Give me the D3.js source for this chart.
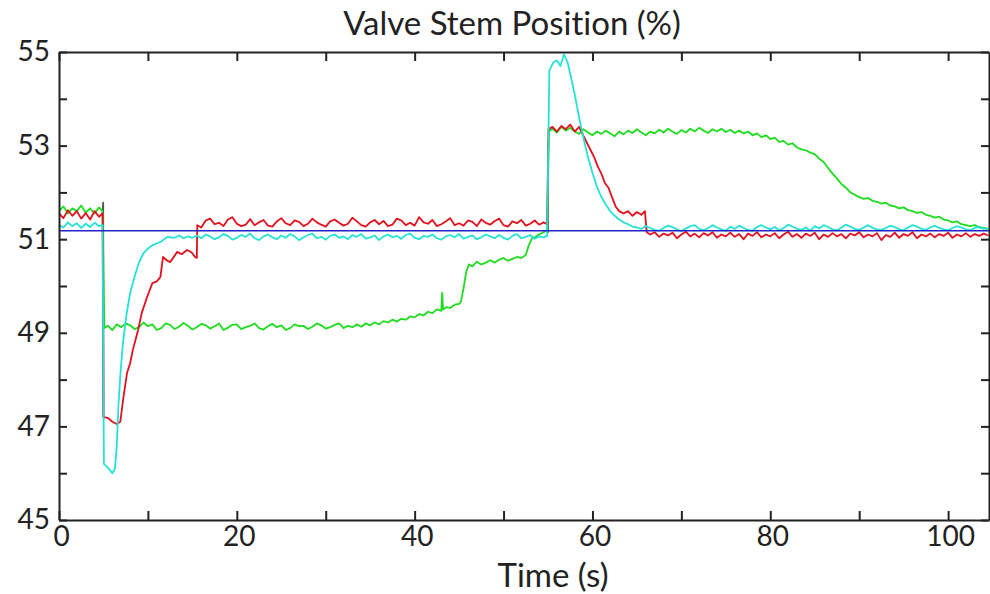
<!DOCTYPE html>
<html>
<head>
<meta charset="utf-8">
<script src="https://cdn.jsdelivr.net/npm/d3@7"></script>
<style>
  body { margin: 0; background: #fff; }
  svg text { font-family: Lato, "Open Sans", sans-serif; fill: #222; font-variant-ligatures: none; }
</style>
</head>
<body>
<svg class="valveChart" width="990" height="594"></svg>
<script>
// time (s), valve stem position (%)
var redTrace = [
  [0,51.55],[0.5,51.45],[1,51.62],[1.5,51.5],[2,51.6],[2.5,51.44],[3,51.56],[3.5,51.42],[4,51.6],[4.5,51.48],[4.9,51.55],
  [5,47.2],[5.5,47.18],[6,47.1],[6.5,47.05],[6.9,47.1],[7.2,47.56],[7.65,48.14],[8,48.35],[8.3,48.63],[8.9,49.06],[9.3,49.42],[9.9,49.76],[10.5,50.06],[11,50.1],[11.4,50.19],[11.7,50.62],[12.1,50.55],[12.5,50.51],[13.3,50.73],[13.8,50.68],[14.4,50.77],[14.9,50.72],[15.3,50.62],[15.5,50.6],[15.55,51.3],
  [16,51.25],[16.5,51.4],[17,51.44],[17.5,51.32],[18,51.35],[18.5,51.28],[19,51.42],[19.5,51.47],[20,51.33],[20.5,51.28],[21,51.31],[21.5,51.43],[22,51.3],[22.5,51.36],[23,51.41],[23.5,51.29],[24,51.27],[24.5,51.38],[25,51.45],[25.5,51.34],[26,51.3],[26.5,51.4],[27,51.37],[27.5,51.28],[28,51.33],[28.5,51.44],[29,51.36],[29.5,51.31],[30,51.27],[30.5,51.38],[31,51.42],[31.5,51.35],[32,51.29],[32.5,51.33],[33,51.46],[33.5,51.38],[34,51.3],[34.5,51.27],[35,51.36],[35.5,51.41],[36,51.32],[36.5,51.39],[37,51.28],[37.5,51.31],[38,51.44],[38.5,51.4],[39,51.3],[39.5,51.35],[40,51.29],[40.5,51.47],[41,51.36],[41.5,51.33],[42,51.41],[42.5,51.28],[43,51.32],[43.5,51.38],[44,51.45],[44.5,51.3],[45,51.34],[45.5,51.29],[46,51.4],[46.5,51.37],[47,51.28],[47.5,51.42],[48,51.35],[48.5,51.31],[49,51.39],[49.5,51.44],[50,51.3],[50.5,51.27],[51,51.38],[51.5,51.34],[52,51.41],[52.5,51.29],[53,51.33],[53.5,51.4],[54,51.31],[54.5,51.36],[54.9,51.32],
  [55.05,53.35],[55.5,53.4],[56,53.3],[56.5,53.42],[57,53.35],[57.5,53.45],[58,53.3],[58.5,53.4],[59,53.2],[59.4,53.05],[59.8,52.9],[60.2,52.75],[60.6,52.55],[61,52.4],[61.4,52.2],[61.8,52.1],[62.2,51.9],[62.6,51.7],[63,51.6],[63.5,51.55],[64,51.6],[64.5,51.5],[65,51.58],[65.5,51.52],[65.9,51.6],[66.1,51.15],
  [66.5,51.1],[67,51.15],[67.5,51.05],[68,51.12],[68.5,51.08],[69,51.14],[69.5,51.02],[70,51.1],[70.5,51.16],[71,51.06],[71.5,51.12],[72,51.04],[72.5,51.13],[73,51.08],[73.5,51.15],[74,51.03],[74.5,51.1],[75,51.06],[75.5,51.14],[76,51.05],[76.5,51.11],[77,51.0],[77.5,51.12],[78,51.07],[78.5,51.15],[79,51.04],[79.5,51.1],[80,51.06],[80.5,51.13],[81,51.02],[81.5,51.1],[82,51.16],[82.5,51.05],[83,51.11],[83.5,51.03],[84,51.12],[84.5,51.07],[85,51.14],[85.5,51.0],[86,51.1],[86.5,51.05],[87,51.13],[87.5,51.06],[88,51.11],[88.5,51.02],[89,51.12],[89.5,51.08],[90,51.15],[90.5,51.04],[91,51.1],[91.5,51.06],[92,51.13],[92.5,50.98],[93,51.09],[93.5,51.05],[94,51.14],[94.5,51.03],[95,51.11],[95.5,51.07],[96,51.15],[96.5,51.02],[97,51.1],[97.5,51.06],[98,51.12],[98.5,51.04],[99,51.11],[99.5,51.07],[100,51.14],[100.5,51.03],[101,51.1],[101.5,51.06],[102,51.13],[102.5,51.05],[103,51.11],[103.5,51.07],[104,51.12],[104.5,51.08]
];

var cyanTrace = [
  [0,51.3],[0.5,51.25],[1,51.36],[1.5,51.28],[2,51.34],[2.5,51.24],[3,51.33],[3.5,51.26],[4,51.35],[4.5,51.28],[4.9,51.3],
  [5.05,46.2],[5.5,46.12],[6,46.0],[6.3,46.1],[6.5,46.6],[6.7,47.5],[6.9,48.1],[7.2,48.8],[7.6,49.4],[8,49.85],[8.5,50.2],[9,50.5],[9.5,50.7],[10,50.8],[10.6,50.88],[11.5,50.95],[12.2,51.05],[13,51.03],[13.5,51.08],[14,51.02],[14.5,51.06],[15,51.03],
  [15.5,51.08],[16,51.02],[16.5,51.1],[17,51.06],[17.5,51.0],[18,51.04],[18.5,51.11],[19,51.07],[19.5,50.99],[20,51.03],[20.5,51.09],[21,51.05],[21.5,51.12],[22,51.02],[22.5,50.98],[23,51.06],[23.5,51.1],[24,51.04],[24.5,51.0],[25,51.08],[25.5,51.03],[26,51.11],[26.5,51.06],[27,50.98],[27.5,51.04],[28,51.09],[28.5,51.12],[29,51.02],[29.5,51.05],[30,50.99],[30.5,51.07],[31,51.1],[31.5,51.03],[32,51.06],[32.5,51.0],[33,51.09],[33.5,51.05],[34,51.11],[34.5,51.01],[35,51.04],[35.5,51.08],[36,50.98],[36.5,51.06],[37,51.1],[37.5,51.04],[38,51.07],[38.5,51.01],[39,51.09],[39.5,51.12],[40,51.03],[40.5,51.0],[41,51.07],[41.5,51.05],[42,51.1],[42.5,51.02],[43,50.99],[43.5,51.06],[44,51.09],[44.5,51.04],[45,51.11],[45.5,51.01],[46,51.05],[46.5,51.08],[47,51.0],[47.5,51.04],[48,51.1],[48.5,51.06],[49,51.02],[49.5,51.09],[50,51.03],[50.5,50.99],[51,51.07],[51.5,51.11],[52,51.02],[52.5,51.05],[53,51.09],[53.5,51.01],[54,51.06],[54.5,51.04],[54.9,51.07],
  [55.15,54.6],[55.6,54.78],[56,54.82],[56.4,54.7],[56.8,54.95],[57.2,54.78],[57.6,54.45],[58,54.1],[58.5,53.6],[59,53.15],[59.5,52.75],[60,52.42],[60.5,52.12],[61,51.9],[61.5,51.74],[62,51.6],[62.5,51.5],[63,51.42],[63.5,51.36],[64,51.32],[64.5,51.27],[65,51.25],
  [65.5,51.22],[66,51.28],[66.5,51.24],[67,51.2],[67.5,51.18],[68,51.24],[68.5,51.29],[69,51.26],[69.5,51.21],[70,51.17],[70.5,51.23],[71,51.28],[71.5,51.3],[72,51.22],[72.5,51.19],[73,51.24],[73.5,51.3],[74,51.25],[74.5,51.21],[75,51.18],[75.5,51.27],[76,51.22],[76.5,51.29],[77,51.24],[77.5,51.2],[78,51.18],[78.5,51.26],[79,51.3],[79.5,51.25],[80,51.21],[80.5,51.26],[81,51.19],[81.5,51.24],[82,51.31],[82.5,51.27],[83,51.22],[83.5,51.2],[84,51.25],[84.5,51.18],[85,51.28],[85.5,51.23],[86,51.3],[86.5,51.26],[87,51.21],[87.5,51.19],[88,51.25],[88.5,51.31],[89,51.27],[89.5,51.22],[90,51.2],[90.5,51.25],[91,51.3],[91.5,51.24],[92,51.21],[92.5,51.2],[93,51.24],[93.5,51.29],[94,51.26],[94.5,51.21],[95,51.19],[95.5,51.25],[96,51.3],[96.5,51.27],[97,51.22],[97.5,51.2],[98,51.25],[98.5,51.29],[99,51.24],[99.5,51.21],[100,51.19],[100.5,51.24],[101,51.28],[101.5,51.25],[102,51.21],[102.5,51.19],[103,51.24],[103.5,51.27],[104,51.22],[104.5,51.23]
];

var greenTrace = [
  [0,51.6],[0.5,51.7],[1,51.55],[1.5,51.66],[2,51.6],[2.5,51.72],[3,51.57],[3.5,51.66],[4,51.55],[4.5,51.68],[4.9,51.6],
  [5.1,49.1],[5.5,49.15],[6,49.06],[6.5,49.18],[7,49.12],[7.5,49.2],[8,49.16],[8.5,49.08],[9,49.12],[9.5,49.22],[10,49.14],[10.5,49.18],[11,49.06],[11.5,49.1],[12,49.2],[12.5,49.17],[13,49.08],[13.5,49.13],[14,49.21],[14.5,49.15],[15,49.07],[15.5,49.12],[16,49.19],[16.5,49.16],[17,49.09],[17.5,49.14],[18,49.2],[18.5,49.06],[19,49.11],[19.5,49.17],[20,49.18],[20.5,49.08],[21,49.12],[21.5,49.15],[22,49.2],[22.5,49.1],[23,49.07],[23.5,49.14],[24,49.19],[24.5,49.12],[25,49.16],[25.5,49.06],[26,49.1],[26.5,49.18],[27,49.14],[27.5,49.15],[28,49.08],[28.5,49.13],[29,49.2],[29.5,49.16],[30,49.09],[30.5,49.12],[31,49.17],[31.5,49.2],[32,49.1],[32.5,49.15],[33,49.12],[33.5,49.18],[34,49.13],[34.5,49.2],[35,49.16],[35.5,49.22],[36,49.18],[36.5,49.25],[37,49.22],[37.5,49.28],[38,49.24],[38.5,49.3],[39,49.28],[39.5,49.35],[40,49.33],[40.5,49.4],[41,49.37],[41.5,49.45],[42,49.42],[42.5,49.5],[43,49.47],[43.1,49.85],[43.2,49.5],[43.6,49.55],[44,49.53],[44.5,49.6],[45,49.62],[45.2,49.66],[45.5,49.95],[45.8,50.3],[46.1,50.46],[46.5,50.42],[47,50.52],[47.5,50.46],[48,50.5],[48.5,50.55],[49,50.5],[49.5,50.56],[50,50.6],[50.5,50.54],[51,50.58],[51.5,50.62],[52,50.6],[52.5,50.66],[52.8,50.85],[53.2,51.02],[53.6,51.05],[54,51.1],[54.5,51.15],[54.9,51.2],
  [55.1,53.3],[55.5,53.36],[56,53.28],[56.5,53.4],[57,53.32],[57.5,53.38],[58,53.3],[58.5,53.25],[59,53.35],[59.5,53.28],[60,53.22],[60.5,53.3],[61,53.25],[61.5,53.32],[62,53.26],[62.5,53.2],[63,53.3],[63.5,53.24],[64,53.32],[64.5,53.27],[65,53.35],[65.5,53.28],[66,53.22],[66.5,53.3],[67,53.26],[67.5,53.34],[68,53.28],[68.5,53.36],[69,53.3],[69.5,53.25],[70,53.33],[70.5,53.28],[71,53.36],[71.5,53.3],[72,53.38],[72.5,53.32],[73,53.27],[73.5,53.35],[74,53.3],[74.5,53.36],[75,53.29],[75.5,53.34],[76,53.27],[76.5,53.32],[77,53.26],[77.5,53.3],[78,53.22],[78.5,53.26],[79,53.18],[79.5,53.22],[80,53.14],[80.5,53.17],[81,53.08],[81.5,53.1],[82,53.02],[82.5,53.05],[83,52.96],[83.5,52.92],[84,52.9],[84.5,52.85],[85,52.82],[85.5,52.72],[86,52.65],[86.5,52.52],[87,52.4],[87.5,52.3],[88,52.18],[88.5,52.1],[89,52.0],[89.5,51.95],[90,51.9],[90.5,51.86],[91,51.88],[91.5,51.82],[92,51.8],[92.5,51.76],[93,51.78],[93.5,51.72],[94,51.7],[94.5,51.66],[95,51.68],[95.5,51.62],[96,51.6],[96.5,51.56],[97,51.58],[97.5,51.52],[98,51.5],[98.5,51.46],[99,51.48],[99.5,51.42],[100,51.4],[100.5,51.36],[101,51.38],[101.5,51.32],[102,51.3],[102.5,51.28],[103,51.3],[103.5,51.25],[104,51.24],[104.5,51.22]
];

// dark steps under the traces at the two setpoint changes
var stepDown = [[4.9,51.55],[4.97,51.78],[5.0,48.5],[5.0,47.2]];
var stepUp = [[54.9,51.15],[55.0,51.15],[55.03,53.1]];

var setpoint = [[0,51.18],[104.6,51.18]];

var yTicks = [45, 46, 47, 48, 49, 50, 51, 52, 53, 54, 55];
var yLabels = [45, 47, 49, 51, 53, 55];
var xTicks = [0, 10, 20, 30, 40, 50, 60, 70, 80, 90, 100];
var xLabels = [0, 20, 40, 60, 80, 100];

var svg = d3.select("svg.valveChart");
var margin = {top: 52, right: 1, bottom: 74, left: 59};
var width = +svg.attr("width") - margin.left - margin.right;
var height = +svg.attr("height") - margin.top - margin.bottom;

var x = d3.scaleLinear().domain([0, 104.6]).range([0, width]);
var y = d3.scaleLinear().domain([45, 55]).range([height, 0]);

var g = svg.append("g")
    .attr("transform", "translate(" + margin.left + "," + margin.top + ")");

g.append("clipPath")
    .attr("id", "plotClip")
  .append("rect")
    .attr("width", width)
    .attr("height", height);

var line = d3.line()
    .x(function(d) { return x(d[0]); })
    .y(function(d) { return y(d[1]); });

var traces = g.append("g").attr("clip-path", "url(#plotClip)");

function drawTrace(data, color, w) {
    traces.append("path")
        .datum(data)
        .attr("fill", "none")
        .attr("stroke", color)
        .attr("stroke-width", w)
        .attr("stroke-linejoin", "round")
        .attr("d", line);
}

drawTrace(stepDown, "#555", 1.8);
drawTrace(stepUp, "#555", 1.8);
drawTrace(greenTrace, "#1edc1e", 1.8);
drawTrace(redTrace, "#e3101e", 1.8);
drawTrace(cyanTrace, "#25e2d6", 1.8);
drawTrace(setpoint, "#2323c8", 1.6);

// axes: ticks point inward on all four sides
function fmtLabel(list) {
    return function(d) { return list.indexOf(d) >= 0 ? d : ""; };
}

var axisStyle = function(sel) {
    sel.select(".domain").attr("stroke", "#222").attr("stroke-width", 2);
    sel.selectAll(".tick line").attr("stroke", "#222").attr("stroke-width", 2);
    sel.selectAll("text").style("font-size", "28px").attr("fill", "#222");
};

g.append("g")
    .attr("class", "axis axis-x")
    .attr("transform", "translate(0," + height + ")")
    .call(d3.axisBottom(x).tickValues(xTicks).tickSizeInner(-9).tickSizeOuter(0).tickPadding(4).tickFormat(fmtLabel(xLabels)))
    .call(axisStyle)
    .selectAll("text").attr("dy", "0.78em").attr("dx", 2);

g.append("g")
    .attr("class", "axis axis-x-top")
    .call(d3.axisTop(x).tickValues(xTicks).tickSizeInner(-9).tickSizeOuter(0).tickFormat(""))
    .call(axisStyle);

g.append("g")
    .attr("class", "axis axis-y")
    .call(d3.axisLeft(y).tickValues(yTicks).tickSizeInner(-8).tickSizeOuter(0).tickPadding(9).tickFormat(fmtLabel(yLabels)))
    .call(axisStyle);

g.append("g")
    .attr("class", "axis axis-y-right")
    .attr("transform", "translate(" + width + ",0)")
    .call(d3.axisRight(y).tickValues(yTicks).tickSizeInner(-8).tickSizeOuter(0).tickFormat(""))
    .call(axisStyle);

svg.append("text")
    .attr("x", 512)
    .attr("y", 35)
    .attr("text-anchor", "middle")
    .style("font-size", "33px")
    .text("Valve Stem Position (%)");

svg.append("text")
    .attr("x", 553)
    .attr("y", 587)
    .attr("text-anchor", "middle")
    .style("font-size", "33px")
    .text("Time (s)");
</script>
</body>
</html>
